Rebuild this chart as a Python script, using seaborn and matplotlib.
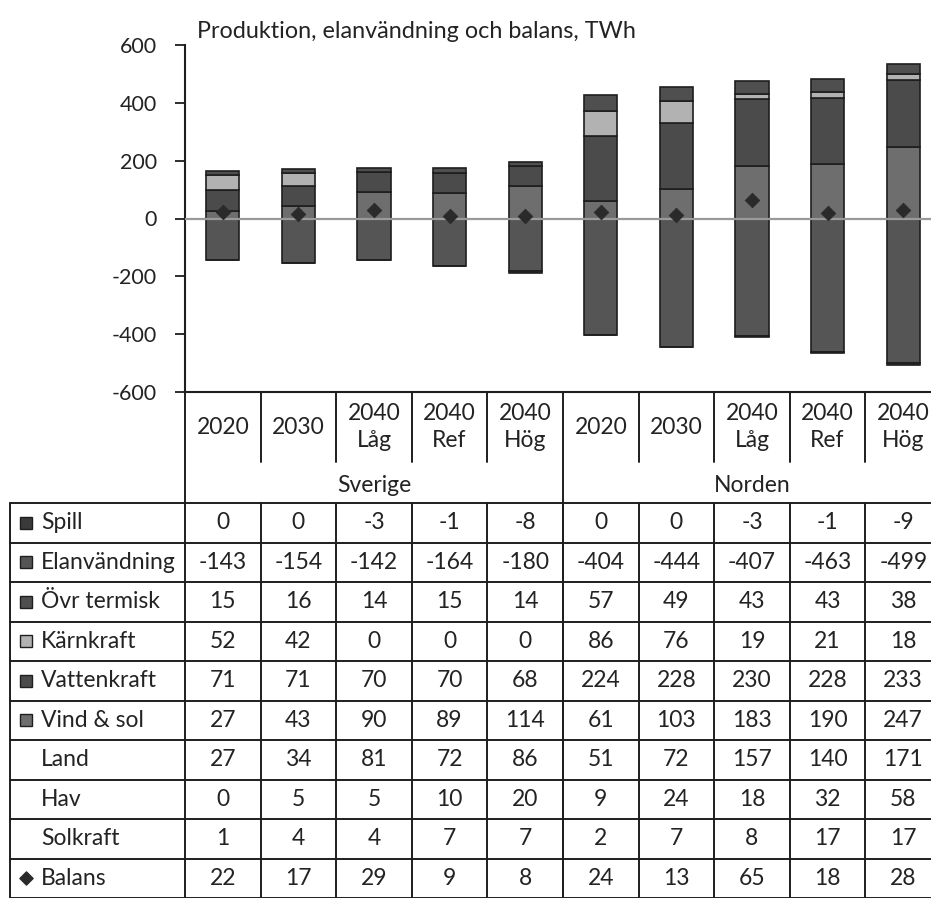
import matplotlib
matplotlib.use("Agg")
import matplotlib.pyplot as plt
import seaborn as sns
import numpy as np
import pandas as pd

# ---------------- data ----------------
columns = ["2020", "2030", "2040\nLåg", "2040\nRef", "2040\nHög",
           "2020", "2030", "2040\nLåg", "2040\nRef", "2040\nHög"]
groups = ["Sverige", "Norden"]

spill = [0, 0, -3, -1, -8, 0, 0, -3, -1, -9]
elanvandning = [-143, -154, -142, -164, -180, -404, -444, -407, -463, -499]
ovr_termisk = [15, 16, 14, 15, 14, 57, 49, 43, 43, 38]
karnkraft = [52, 42, 0, 0, 0, 86, 76, 19, 21, 18]
vattenkraft = [71, 71, 70, 70, 68, 224, 228, 230, 228, 233]
vind_sol = [27, 43, 90, 89, 114, 61, 103, 183, 190, 247]
land = [27, 34, 81, 72, 86, 51, 72, 157, 140, 171]
hav = [0, 5, 5, 10, 20, 9, 24, 18, 32, 58]
solkraft = [1, 4, 4, 7, 7, 2, 7, 8, 17, 17]
balans = [22, 17, 29, 9, 8, 24, 13, 65, 18, 28]

row_labels = ["Spill", "Elanvändning", "Övr termisk", "Kärnkraft", "Vattenkraft",
              "Vind & sol", "Land", "Hav", "Solkraft", "Balans"]
row_values = [spill, elanvandning, ovr_termisk, karnkraft, vattenkraft,
              vind_sol, land, hav, solkraft, balans]

title = "Produktion, elanvändning och balans, TWh"
yticks = [-600, -400, -200, 0, 200, 400, 600]

# ---------------- style ----------------
sns.set_theme(style="white")
plt.rcParams["font.family"] = ["Lato", "DejaVu Sans"]
TXT = "#232323"
LINE = "#1e1e1e"

col_vind = "#6e6e6e"
col_vatten = "#4b4b4b"
col_karn = "#b2b2b2"
col_ovr = "#4f4f4f"
col_el = "#555555"
col_spill = "#3a3a3a"
col_bal = "#2a2a2a"

W, H = 931, 898
fig = plt.figure(figsize=(W / 100, H / 100), dpi=100)
fig.patch.set_facecolor("white")

x_left, x_right = 185, 941
y_top, y_bot = 45, 392
ax = fig.add_axes([x_left / W, 1 - y_bot / H, (x_right - x_left) / W, (y_bot - y_top) / H])

x = np.arange(len(columns))
bw = 0.44
ekw = dict(edgecolor=LINE, linewidth=1.2, width=bw, zorder=3)

# positive stack
b = np.zeros(len(x))
for vals, c in [(vind_sol, col_vind), (vattenkraft, col_vatten),
                (karnkraft, col_karn), (ovr_termisk, col_ovr)]:
    v = np.array(vals, dtype=float)
    ax.bar(x, v, bottom=b, color=c, **ekw)
    b = b + v
# negative stack
nb = np.zeros(len(x))
for vals, c in [(elanvandning, col_el), (spill, col_spill)]:
    v = np.array(vals, dtype=float)
    ax.bar(x, v, bottom=nb, color=c, **ekw)
    nb = nb + v

ax.axhline(0, color="#9a9a9a", lw=1.6, zorder=4)

bal_df = pd.DataFrame({"x": x, "Balans": balans})
sns.scatterplot(data=bal_df, x="x", y="Balans", marker="D", s=55, color=col_bal,
                edgecolor=col_bal, zorder=5, ax=ax, legend=False)

ax.set_xlim(-0.5, len(columns) - 0.5)
ax.set_ylim(-600, 600)
ax.set_yticks(yticks)
ax.set_yticklabels([str(t) for t in yticks], fontsize=15.5, color=TXT)
ax.set_xticks([])
ax.set_xlabel("")
ax.set_ylabel("")
ax.tick_params(axis="y", direction="out", length=7, width=1.3, color=LINE, pad=13, left=True)
for s in ["top", "right"]:
    ax.spines[s].set_visible(False)
ax.spines["left"].set_color(LINE)
ax.spines["left"].set_linewidth(1.5)
ax.spines["bottom"].set_color(LINE)
ax.spines["bottom"].set_linewidth(1.5)
ax.patch.set_alpha(0)

fig.text(197 / W, 1 - 32 / H, title, fontsize=16.8, color=TXT, ha="left", va="center")

# ---------------- table (overlay in pixel coords) ----------------
tab = fig.add_axes([0, 0, 1, 1], zorder=-1)
tab.set_xlim(0, W)
tab.set_ylim(H, 0)
tab.axis("off")

ncol = len(columns)
cw = (x_right - x_left) / ncol
edges = [x_left + i * cw for i in range(ncol + 1)]
centers = [x_left + (i + 0.5) * cw for i in range(ncol)]

lkw = dict(color=LINE, lw=1.4)
hdr_bot = 462
grp_bot = 503
row_h = (H - grp_bot) / len(row_labels)
FS = 16.5

# header vertical separators
for i in range(1, ncol):
    if i == 5:
        continue
    tab.plot([edges[i], edges[i]], [y_bot, hdr_bot], **lkw)
# full vertical lines
tab.plot([x_left, x_left], [y_bot, H], **lkw)
tab.plot([edges[5], edges[5]], [y_bot, H], **lkw)
tab.plot([edges[-1], edges[-1]], [y_bot, H], **lkw)
# data rows
tab.plot([10, W], [grp_bot, grp_bot], **lkw)
tab.plot([10, 10], [grp_bot, H], **lkw)
for r in range(1, len(row_labels) + 1):
    yy = grp_bot + r * row_h
    tab.plot([10, W], [yy, yy], **lkw)
for i in range(1, ncol):
    tab.plot([edges[i], edges[i]], [grp_bot, H], **lkw)

# header text
for i, lab in enumerate(columns):
    tab.text(centers[i], 427, lab, ha="center", va="center", fontsize=FS,
             color=TXT, linespacing=1.3)
tab.text((edges[0] + edges[5]) / 2, 486, groups[0], ha="center", va="center",
         fontsize=FS, color=TXT)
tab.text((edges[5] + edges[10]) / 2, 486, groups[1], ha="center", va="center",
         fontsize=FS, color=TXT)

legend_colors = [col_spill, col_el, col_ovr, col_karn, col_vatten, col_vind,
                 None, None, None, "diamond"]
for r, (lab, vals) in enumerate(zip(row_labels, row_values)):
    yc = grp_bot + (r + 0.5) * row_h
    lc = legend_colors[r]
    if lc == "diamond":
        tab.scatter([26], [yc], marker="D", s=45, color=col_bal, zorder=3)
    elif lc is not None:
        tab.add_patch(plt.Rectangle((20, yc - 6), 12, 12, facecolor=lc,
                                    edgecolor=LINE, lw=1.0))
    tab.text(41, yc, lab, ha="left", va="center", fontsize=FS, color=TXT)
    for i, v in enumerate(vals):
        tab.text(centers[i], yc, str(v), ha="center", va="center", fontsize=FS,
                 color=TXT)

fig.savefig("out.png", dpi=100, facecolor="white")
